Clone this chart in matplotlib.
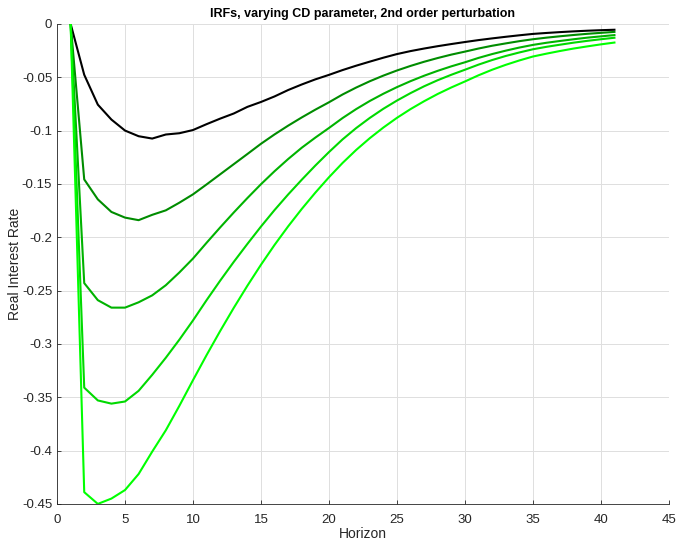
## Imports

from matplotlib import pyplot as plt
import numpy as np

plt.rcParams['font.family'] = ['Liberation Sans', 'DejaVu Sans']

## Donnees

horizon = np.arange(1, 42)

irf_1 = [0, -0.0477, -0.0757, -0.0897, -0.1000, -0.1053, -0.1075, -0.1037, -0.1025, -0.0995,
         -0.0940, -0.0888, -0.0840, -0.0778, -0.0732, -0.0680, -0.0620, -0.0568, -0.0520, -0.0478,
         -0.0433, -0.0392, -0.0354, -0.0317, -0.0283, -0.0255, -0.0231, -0.0209, -0.0189, -0.0170,
         -0.0152, -0.0136, -0.0121, -0.0107, -0.0094, -0.0085, -0.0077, -0.0070, -0.0064, -0.0059,
         -0.0055]
irf_2 = [0, -0.1458, -0.1645, -0.1763, -0.1816, -0.1840, -0.1790, -0.1748, -0.1676, -0.1598,
         -0.1505, -0.1410, -0.1315, -0.1220, -0.1124, -0.1036, -0.0954, -0.0877, -0.0804, -0.0735,
         -0.0662, -0.0597, -0.0538, -0.0485, -0.0437, -0.0394, -0.0355, -0.0320, -0.0288, -0.0260,
         -0.0231, -0.0205, -0.0183, -0.0162, -0.0144, -0.0129, -0.0116, -0.0104, -0.0093, -0.0084,
         -0.0075]
irf_3 = [0, -0.2430, -0.2590, -0.2660, -0.2660, -0.2610, -0.2545, -0.2450, -0.2330, -0.2200,
         -0.2052, -0.1908, -0.1768, -0.1633, -0.1503, -0.1381, -0.1267, -0.1161, -0.1066, -0.0976,
         -0.0883, -0.0799, -0.0723, -0.0655, -0.0593, -0.0537, -0.0486, -0.0440, -0.0398, -0.0360,
         -0.0319, -0.0283, -0.0251, -0.0222, -0.0197, -0.0177, -0.0160, -0.0144, -0.0129, -0.0117,
         -0.0105]
irf_4 = [0, -0.3410, -0.3530, -0.3560, -0.3540, -0.3440, -0.3290, -0.3130, -0.2960, -0.2780,
         -0.2590, -0.2407, -0.2231, -0.2063, -0.1900, -0.1745, -0.1599, -0.1461, -0.1328, -0.1202,
         -0.1083, -0.0977, -0.0882, -0.0796, -0.0719, -0.0649, -0.0585, -0.0528, -0.0477, -0.0430,
         -0.0382, -0.0339, -0.0301, -0.0268, -0.0238, -0.0215, -0.0195, -0.0176, -0.0159, -0.0144,
         -0.0130]
irf_5 = [0, -0.4390, -0.4500, -0.4450, -0.4370, -0.4220, -0.4010, -0.3810, -0.3580, -0.3340,
         -0.3105, -0.2879, -0.2662, -0.2455, -0.2258, -0.2072, -0.1898, -0.1735, -0.1582, -0.1438,
         -0.1304, -0.1182, -0.1072, -0.0972, -0.0881, -0.0799, -0.0725, -0.0657, -0.0596, -0.0540,
         -0.0482, -0.0430, -0.0384, -0.0343, -0.0306, -0.0279, -0.0254, -0.0231, -0.0211, -0.0192,
         -0.0175]

series = [irf_1, irf_2, irf_3, irf_4, irf_5]
couleurs = [(0, 0, 0), (0, 0.55, 0), (0, 0.7, 0), (0, 0.85, 0), (0, 1, 0)]

## Figure

fig = plt.figure(figsize=(6.79, 5.43), dpi=100)
ax = fig.add_axes([0.084, 0.072, 0.901, 0.884])

for y, c in zip(series, couleurs):
    ax.plot(horizon, y, color=c, linewidth=1.5)

ax.set_xlim(0, 45)
ax.set_ylim(-0.45, 0)
ax.set_xticks(np.arange(0, 46, 5))
ax.set_yticks(np.arange(-0.45, 0.001, 0.05))
ax.set_yticklabels(['-0.45', '-0.4', '-0.35', '-0.3', '-0.25', '-0.2', '-0.15', '-0.1', '-0.05', '0'])

ax.grid(True, color='#dfdfdf', linewidth=0.7)
ax.set_axisbelow(True)
for s in ['top', 'right']:
    ax.spines[s].set_visible(False)
for s in ['left', 'bottom']:
    ax.spines[s].set_color('#262626')
    ax.spines[s].set_linewidth(0.6)
ax.tick_params(direction='in', length=3, width=0.6, colors='#262626', labelsize=9.5)
ax.tick_params(axis='x', pad=7)

ax.set_xlabel('Horizon', fontsize=10, color='#262626', labelpad=1)
ax.set_ylabel('Real Interest Rate', fontsize=10, color='#262626', labelpad=0)
ax.set_title('IRFs, varying CD parameter, 2nd order perturbation', fontsize=9, fontweight='bold', pad=5)

plt.savefig('out.png')
